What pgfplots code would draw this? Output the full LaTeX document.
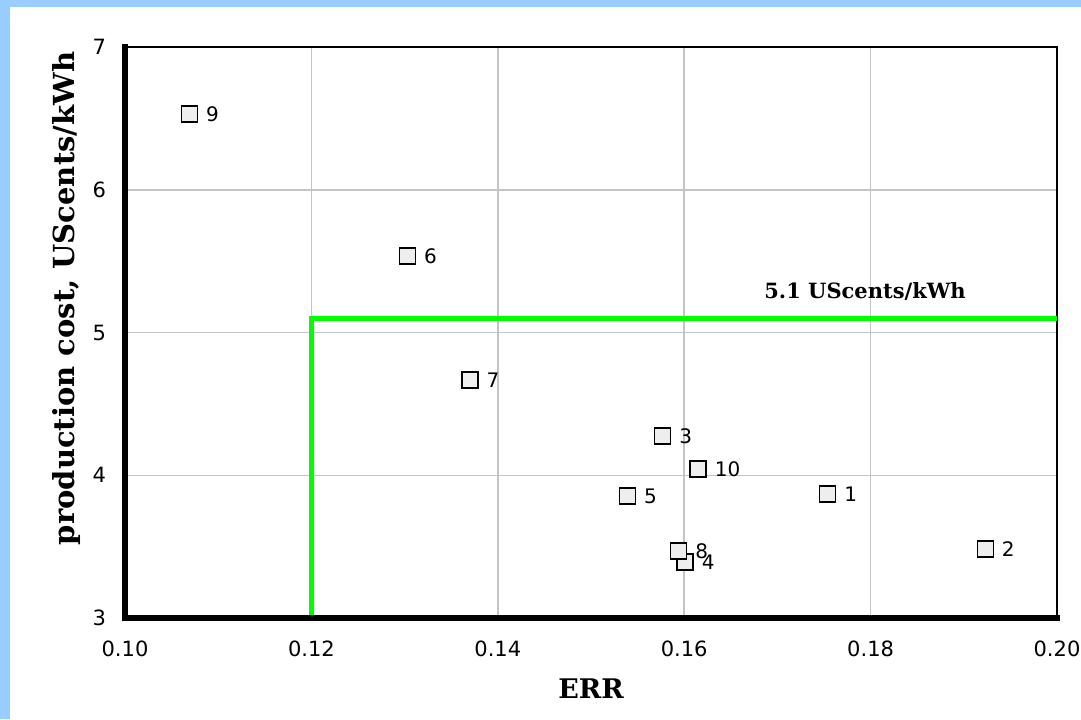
\documentclass[border=0pt]{standalone}
\usepackage{pgfplots}
\pgfplotsset{compat=1.18}
\usepackage{fontspec}
\setmainfont{DejaVu Sans}
\newfontfamily\seriffont{DejaVu Serif}
\definecolor{bandblue}{HTML}{99CCFF}
\definecolor{mk}{HTML}{EEEEEE}
\definecolor{gridc}{HTML}{C4C4C4}
\begin{document}
\begin{tikzpicture}
\useasboundingbox (-62.5pt,-50.5pt) rectangle (478pt,309pt);
\fill[bandblue] (-62.5pt,-50.5pt) rectangle (-57.5pt,309pt);
\fill[bandblue] (-62.5pt,305.5pt) rectangle (478pt,309pt);
\begin{axis}[
  at={(0,0)}, anchor=south west,
  scale only axis, width=466pt, height=285.5pt,
  xmin=0.10, xmax=0.20, ymin=3, ymax=7,
  xtick={0.10,0.12,0.14,0.16,0.18,0.20},
  ytick={3,4,5,6,7},
  xticklabel style={/pgf/number format/.cd, fixed, fixed zerofill, precision=2},
  /pgf/number format/assume math mode=true,
  ticklabel style={font=\fontsize{10.5}{12}\selectfont},
  xticklabel shift=8pt,
  yticklabel shift=6pt,
  major tick length=0pt,
  grid=major,
  major grid style={gridc, line width=0.75pt},
  axis line style={black, line width=0.6pt},
  xlabel={ERR},
  ylabel={production cost, UScents/kWh},
  xlabel style={font=\seriffont\bfseries\fontsize{13.5}{15}\selectfont, yshift=-4pt},
  ylabel style={font=\seriffont\bfseries\fontsize{14.5}{16}\selectfont, xshift=17pt, yshift=-1pt},
  clip=false,
]
\addplot[color={rgb,255:red,0;green,255;blue,0}, line width=2.6pt] coordinates {(0.12,3) (0.12,5.1) (0.20,5.1)};
\addplot[only marks, mark=square*, mark size=4pt,
  mark options={fill=mk, draw=black, line width=0.7pt},
  nodes near coords, point meta=explicit symbolic,
  every node near coord/.style={anchor=west, xshift=8pt, yshift=0pt, font=\fontsize{10}{11}\selectfont, inner sep=0pt}]
  table[meta=lab] {
x y lab
0.1754 3.869 1
0.1923 3.483 2
0.1577 4.275 3
0.1601 3.392 4
0.1539 3.855 5
0.1303 5.536 6
0.1370 4.667 7
0.1594 3.469 8
0.1069 6.530 9
0.1615 4.044 10
};
\node[font=\seriffont\bfseries\fontsize{10.5}{12}\selectfont] at (axis cs:0.1794,5.29) {5.1 UScents/kWh};
\draw[black, line width=3pt, line cap=rect] (rel axis cs:0,1) -- (rel axis cs:0,0) -- (rel axis cs:1,0);
\end{axis}
\end{tikzpicture}
\end{document}
